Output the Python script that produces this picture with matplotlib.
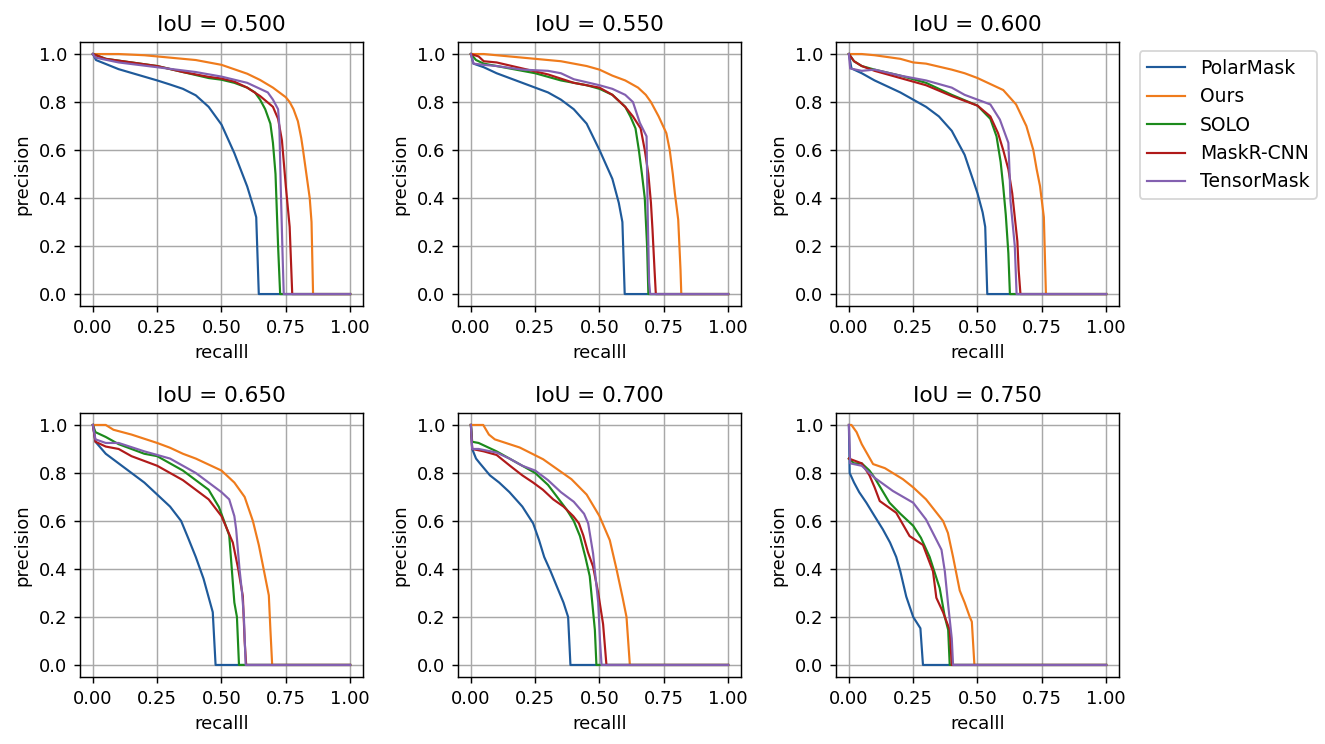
import matplotlib
matplotlib.use("Agg")
import matplotlib.pyplot as plt

# IoU thresholds, one panel each
ious = [0.50, 0.55, 0.60, 0.65, 0.70, 0.75]
methods = ["PolarMask", "Ours", "SOLO", "MaskR-CNN", "TensorMask"]
colors = ["#1f5a9a", "#ef7b1c", "#1c8a1c", "#b01a1a", "#8360b0"]

# (recall, precision)
polarmask_050 = [(0, 1.0), (0.012, 0.975), (0.1, 0.937), (0.25, 0.89), (0.3, 0.873), (0.35, 0.855),
                 (0.4, 0.828), (0.45, 0.78), (0.5, 0.706), (0.55, 0.587), (0.6, 0.448), (0.625, 0.36),
                 (0.635, 0.32), (0.645, 0.0), (1.0, 0.0)]
ours_050 = [(0, 1.0), (0.1, 1.0), (0.2, 0.995), (0.3, 0.985), (0.4, 0.975), (0.5, 0.955), (0.6, 0.918),
            (0.65, 0.892), (0.7, 0.86), (0.75, 0.82), (0.765, 0.80), (0.78, 0.77), (0.797, 0.72),
            (0.81, 0.65), (0.817, 0.6), (0.83, 0.5), (0.843, 0.4), (0.85, 0.3), (0.856, 0.0), (1.0, 0.0)]
solo_050 = [(0, 1.0), (0.05, 0.98), (0.15, 0.965), (0.25, 0.95), (0.35, 0.925), (0.45, 0.9), (0.5, 0.893),
            (0.55, 0.88), (0.6, 0.86), (0.63, 0.84), (0.65, 0.81), (0.67, 0.77), (0.69, 0.71), (0.70, 0.63),
            (0.71, 0.5), (0.715, 0.35), (0.72, 0.2), (0.728, 0.0), (1.0, 0.0)]
maskrcnn_050 = [(0, 1.0), (0.05, 0.98), (0.15, 0.965), (0.25, 0.95), (0.35, 0.925), (0.45, 0.905),
                (0.5, 0.898), (0.55, 0.885), (0.6, 0.86), (0.65, 0.825), (0.7, 0.78), (0.72, 0.73),
                (0.735, 0.64), (0.75, 0.45), (0.765, 0.28), (0.77, 0.14), (0.775, 0.0), (1.0, 0.0)]
tensormask_050 = [(0, 1.0), (0.01, 0.985), (0.1, 0.965), (0.25, 0.945), (0.4, 0.925), (0.5, 0.906),
                  (0.6, 0.88), (0.68, 0.84), (0.7, 0.81), (0.72, 0.77), (0.725, 0.70), (0.73, 0.46),
                  (0.737, 0.18), (0.742, 0.0), (1.0, 0.0)]

polarmask_055 = [(0, 1.0), (0.01, 0.96), (0.05, 0.945), (0.1, 0.92), (0.2, 0.88), (0.25, 0.86), (0.3, 0.84),
                 (0.35, 0.81), (0.4, 0.77), (0.45, 0.71), (0.5, 0.60), (0.55, 0.48), (0.575, 0.38),
                 (0.589, 0.30), (0.598, 0.0), (1.0, 0.0)]
ours_055 = [(0, 1.0), (0.05, 1.0), (0.15, 0.99), (0.25, 0.98), (0.35, 0.97), (0.45, 0.95), (0.5, 0.935),
            (0.55, 0.91), (0.6, 0.89), (0.65, 0.86), (0.68, 0.83), (0.7, 0.8), (0.73, 0.74), (0.76, 0.67),
            (0.773, 0.6), (0.785, 0.5), (0.793, 0.42), (0.806, 0.31), (0.815, 0.1), (0.818, 0.0), (1.0, 0.0)]
solo_055 = [(0, 1.0), (0.02, 0.975), (0.05, 0.96), (0.15, 0.94), (0.25, 0.92), (0.35, 0.89), (0.45, 0.87),
            (0.5, 0.855), (0.55, 0.83), (0.6, 0.78), (0.62, 0.74), (0.64, 0.69), (0.653, 0.6), (0.665, 0.5),
            (0.676, 0.4), (0.685, 0.2), (0.69, 0.0), (1.0, 0.0)]
maskrcnn_055 = [(0, 1.0), (0.03, 0.99), (0.05, 0.97), (0.1, 0.965), (0.2, 0.94), (0.3, 0.915), (0.4, 0.88),
                (0.5, 0.86), (0.55, 0.83), (0.6, 0.78), (0.63, 0.74), (0.66, 0.69), (0.676, 0.6),
                (0.69, 0.5), (0.70, 0.38), (0.706, 0.27), (0.714, 0.1), (0.719, 0.0), (1.0, 0.0)]
tensormask_055 = [(0, 1.0), (0.01, 0.96), (0.05, 0.955), (0.1, 0.95), (0.2, 0.935), (0.3, 0.93),
                  (0.35, 0.92), (0.4, 0.895), (0.5, 0.87), (0.55, 0.855), (0.6, 0.83), (0.63, 0.8),
                  (0.657, 0.713), (0.683, 0.657), (0.685, 0.5), (0.688, 0.3), (0.693, 0.05), (0.697, 0.0),
                  (1.0, 0.0)]

polarmask_060 = [(0, 1.0), (0.01, 0.94), (0.05, 0.92), (0.1, 0.89), (0.2, 0.84), (0.25, 0.81), (0.3, 0.78),
                 (0.35, 0.74), (0.4, 0.68), (0.45, 0.58), (0.5, 0.42), (0.52, 0.34), (0.53, 0.28),
                 (0.538, 0.0), (1.0, 0.0)]
ours_060 = [(0, 1.0), (0.05, 1.0), (0.1, 0.995), (0.2, 0.98), (0.25, 0.965), (0.3, 0.96), (0.4, 0.935),
            (0.45, 0.92), (0.5, 0.9), (0.55, 0.875), (0.6, 0.85), (0.65, 0.79), (0.69, 0.7), (0.717, 0.6),
            (0.73, 0.52), (0.743, 0.45), (0.758, 0.32), (0.766, 0.0), (1.0, 0.0)]
solo_060 = [(0, 1.0), (0.02, 0.97), (0.05, 0.95), (0.1, 0.935), (0.2, 0.91), (0.3, 0.88), (0.4, 0.83),
            (0.5, 0.785), (0.55, 0.73), (0.574, 0.657), (0.59, 0.55), (0.6, 0.448), (0.61, 0.33),
            (0.62, 0.17), (0.626, 0.0), (1.0, 0.0)]
maskrcnn_060 = [(0, 1.0), (0.02, 0.97), (0.05, 0.95), (0.1, 0.93), (0.2, 0.9), (0.3, 0.87), (0.4, 0.825),
                (0.5, 0.785), (0.55, 0.74), (0.58, 0.67), (0.6, 0.6), (0.62, 0.52), (0.635, 0.42),
                (0.645, 0.32), (0.655, 0.22), (0.66, 0.1), (0.667, 0.0), (1.0, 0.0)]
tensormask_060 = [(0, 1.0), (0.005, 0.94), (0.05, 0.93), (0.1, 0.935), (0.2, 0.91), (0.3, 0.89),
                  (0.4, 0.86), (0.45, 0.83), (0.5, 0.81), (0.55, 0.79), (0.587, 0.727), (0.62, 0.63),
                  (0.625, 0.5), (0.628, 0.39), (0.645, 0.2), (0.652, 0.0), (1.0, 0.0)]

polarmask_065 = [(0, 1.0), (0.01, 0.93), (0.05, 0.88), (0.1, 0.84), (0.15, 0.8), (0.2, 0.76), (0.25, 0.71),
                 (0.3, 0.66), (0.343, 0.60), (0.37, 0.53), (0.4, 0.45), (0.43, 0.36), (0.466, 0.22),
                 (0.477, 0.0), (1.0, 0.0)]
ours_065 = [(0, 1.0), (0.05, 1.0), (0.08, 0.98), (0.15, 0.96), (0.25, 0.925), (0.3, 0.905), (0.35, 0.88),
            (0.4, 0.86), (0.45, 0.835), (0.5, 0.81), (0.55, 0.76), (0.59, 0.70), (0.622, 0.6),
            (0.645, 0.5), (0.66, 0.42), (0.684, 0.29), (0.69, 0.15), (0.697, 0.0), (1.0, 0.0)]
solo_065 = [(0, 1.0), (0.01, 0.97), (0.05, 0.95), (0.1, 0.92), (0.2, 0.88), (0.25, 0.87), (0.3, 0.84),
            (0.35, 0.81), (0.4, 0.77), (0.45, 0.73), (0.49, 0.658), (0.51, 0.6), (0.53, 0.54),
            (0.54, 0.4), (0.55, 0.26), (0.56, 0.2), (0.568, 0.0), (1.0, 0.0)]
maskrcnn_065 = [(0, 1.0), (0.01, 0.93), (0.05, 0.91), (0.1, 0.90), (0.15, 0.87), (0.2, 0.85), (0.25, 0.83),
                (0.3, 0.8), (0.35, 0.77), (0.4, 0.73), (0.45, 0.69), (0.5, 0.62), (0.544, 0.51),
                (0.565, 0.4), (0.583, 0.286), (0.59, 0.1), (0.596, 0.0), (1.0, 0.0)]
tensormask_065 = [(0, 1.0), (0.01, 0.94), (0.05, 0.925), (0.1, 0.925), (0.2, 0.89), (0.3, 0.86),
                  (0.4, 0.8), (0.45, 0.76), (0.5, 0.72), (0.53, 0.69), (0.55, 0.62), (0.557, 0.565),
                  (0.57, 0.4), (0.58, 0.3), (0.587, 0.2), (0.594, 0.0), (1.0, 0.0)]

polarmask_070 = [(0, 1.0), (0.005, 0.9), (0.02, 0.86), (0.035, 0.84), (0.074, 0.79), (0.11, 0.76),
                 (0.15, 0.72), (0.2, 0.66), (0.242, 0.59), (0.265, 0.52), (0.285, 0.45), (0.31, 0.39),
                 (0.333, 0.33), (0.36, 0.26), (0.378, 0.2), (0.387, 0.0), (1.0, 0.0)]
ours_070 = [(0, 1.0), (0.048, 1.0), (0.07, 0.96), (0.093, 0.94), (0.19, 0.906), (0.281, 0.857),
            (0.391, 0.774), (0.45, 0.71), (0.5, 0.62), (0.54, 0.52), (0.566, 0.40), (0.59, 0.28),
            (0.605, 0.2), (0.618, 0.0), (1.0, 0.0)]
solo_070 = [(0, 1.0), (0.005, 0.93), (0.03, 0.925), (0.1, 0.89), (0.2, 0.83), (0.25, 0.8), (0.3, 0.75),
            (0.372, 0.648), (0.4, 0.6), (0.424, 0.537), (0.445, 0.45), (0.462, 0.37), (0.482, 0.146),
            (0.488, 0.0), (1.0, 0.0)]
maskrcnn_070 = [(0, 1.0), (0.005, 0.9), (0.05, 0.89), (0.1, 0.875), (0.152, 0.83), (0.2, 0.79),
                (0.242, 0.76), (0.28, 0.73), (0.32, 0.69), (0.36, 0.66), (0.398, 0.62), (0.42, 0.59),
                (0.437, 0.54), (0.455, 0.47), (0.475, 0.41), (0.495, 0.3), (0.514, 0.17), (0.527, 0.0),
                (1.0, 0.0)]
tensormask_070 = [(0, 1.0), (0.005, 0.9), (0.03, 0.9), (0.1, 0.885), (0.15, 0.86), (0.2, 0.83),
                  (0.25, 0.81), (0.3, 0.77), (0.35, 0.72), (0.4, 0.68), (0.44, 0.63), (0.456, 0.59),
                  (0.475, 0.465), (0.495, 0.26), (0.502, 0.1), (0.508, 0.0), (1.0, 0.0)]

polarmask_075 = [(0, 1.0), (0.003, 0.8), (0.02, 0.76), (0.04, 0.72), (0.068, 0.676), (0.1, 0.62),
                 (0.132, 0.565), (0.16, 0.51), (0.184, 0.45), (0.2, 0.39), (0.223, 0.285), (0.25, 0.2),
                 (0.278, 0.153), (0.288, 0.0), (1.0, 0.0)]
ours_075 = [(0, 1.0), (0.01, 1.0), (0.03, 0.97), (0.05, 0.92), (0.068, 0.886), (0.094, 0.837),
            (0.14, 0.82), (0.21, 0.774), (0.25, 0.74), (0.3, 0.69), (0.366, 0.6), (0.385, 0.55),
            (0.405, 0.45), (0.431, 0.31), (0.45, 0.26), (0.47, 0.2), (0.478, 0.18), (0.488, 0.0),
            (1.0, 0.0)]
solo_075 = [(0, 0.86), (0.02, 0.84), (0.05, 0.84), (0.08, 0.81), (0.1, 0.78), (0.158, 0.676),
            (0.2, 0.63), (0.25, 0.58), (0.28, 0.53), (0.314, 0.45), (0.353, 0.32), (0.373, 0.2),
            (0.386, 0.146), (0.392, 0.0), (1.0, 0.0)]
maskrcnn_075 = [(0, 0.86), (0.05, 0.84), (0.08, 0.79), (0.1, 0.74), (0.12, 0.683), (0.184, 0.634),
                (0.236, 0.537), (0.288, 0.50), (0.327, 0.39), (0.34, 0.28), (0.366, 0.22), (0.392, 0.146),
                (0.40, 0.0), (1.0, 0.0)]
tensormask_075 = [(0, 1.0), (0.005, 0.84), (0.05, 0.83), (0.08, 0.8), (0.1, 0.78), (0.171, 0.725),
                  (0.25, 0.676), (0.3, 0.606), (0.36, 0.48), (0.373, 0.39), (0.386, 0.25), (0.4, 0.11),
                  (0.405, 0.0), (1.0, 0.0)]

curves = [
    [polarmask_050, ours_050, solo_050, maskrcnn_050, tensormask_050],
    [polarmask_055, ours_055, solo_055, maskrcnn_055, tensormask_055],
    [polarmask_060, ours_060, solo_060, maskrcnn_060, tensormask_060],
    [polarmask_065, ours_065, solo_065, maskrcnn_065, tensormask_065],
    [polarmask_070, ours_070, solo_070, maskrcnn_070, tensormask_070],
    [polarmask_075, ours_075, solo_075, maskrcnn_075, tensormask_075],
]

DPI = 130
fig, axes = plt.subplots(2, 3, figsize=(1325 / DPI, 744 / DPI), dpi=DPI)
fig.subplots_adjust(left=0.0604, right=0.8445, bottom=0.0901, top=0.9435, wspace=0.336, hspace=0.405)

for i, ax in enumerate(axes.flat):
    for name, col, pts in zip(methods, colors, curves[i]):
        r = [p[0] for p in pts]
        pr = [p[1] for p in pts]
        ax.plot(r, pr, color=col, lw=1.2, label=name)
    ax.set_title("IoU = {:.3f}".format(ious[i]))
    ax.set_xlabel("recalll")
    ax.set_ylabel("precision")
    ax.set_xticks([0, 0.25, 0.5, 0.75, 1.0])
    ax.set_yticks([0, 0.2, 0.4, 0.6, 0.8, 1.0])
    ax.grid(True, color="#a8a8a8")

axes[0][2].legend(loc="upper left", bbox_to_anchor=(1.04, 1.0), fontsize=10.4)

fig.savefig("out.png", dpi=DPI)
